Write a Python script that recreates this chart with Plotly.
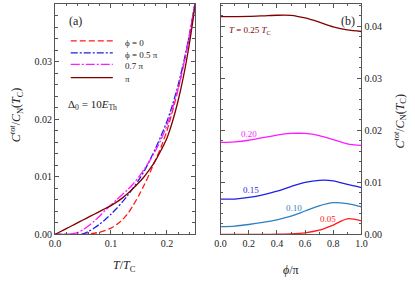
import plotly.graph_objects as go

# ---------------- data: panel (a) ----------------
T_a = [0.00, 0.01, 0.02, 0.03, 0.04, 0.05, 0.06, 0.07, 0.08, 0.09, 0.10, 0.11, 0.12, 0.13,
       0.14, 0.15, 0.16, 0.17, 0.18, 0.19, 0.20, 0.21, 0.22, 0.23, 0.24, 0.25, 0.26]
c_phi0 = [0.0, 0.0, 0.0, 0.0, 0.0, 0.0, 0.0001, 0.0002, 0.0004, 0.0007, 0.0011, 0.0017, 0.0025, 0.0036,
          0.0051, 0.0068, 0.0087, 0.0108, 0.0130, 0.0153, 0.0180, 0.0214, 0.0252, 0.0295, 0.0344, 0.0400, 0.0462]
c_phi05 = [0.0, 0.0, 0.0, 0.0, 0.0, 0.0001, 0.0005, 0.0011, 0.0018, 0.0026, 0.0035, 0.0045, 0.0056, 0.0068,
           0.0081, 0.0095, 0.0111, 0.0130, 0.0150, 0.0172, 0.0196, 0.0225, 0.0259, 0.0299, 0.0345, 0.0400, 0.0462]
c_phi07 = [0.0, 0.0, 0.0, 0.0001, 0.0003, 0.0008, 0.0015, 0.0023, 0.0032, 0.0042, 0.0051, 0.0060, 0.0069, 0.0078,
           0.0088, 0.0100, 0.0114, 0.0129, 0.0146, 0.0166, 0.0189, 0.0218, 0.0253, 0.0295, 0.0344, 0.0400, 0.0462]
c_phipi = [0.0, 0.0005, 0.0010, 0.0015, 0.0020, 0.0025, 0.0030, 0.0035, 0.0040, 0.0045, 0.0050, 0.0056, 0.0063, 0.0071,
           0.0080, 0.0090, 0.0101, 0.0114, 0.0129, 0.0147, 0.0167, 0.0196, 0.0232, 0.0276, 0.0330, 0.0395, 0.0470]
legend_names = ["ϕ = 0", "ϕ = 0.5 π", "0.7 π", "π"]

# ---------------- data: panel (b) ----------------
phi_b = [0.0, 0.1, 0.2, 0.3, 0.4, 0.5, 0.6, 0.7, 0.8, 0.9, 1.0]
c_T025 = [0.04185, 0.04187, 0.0419, 0.0420, 0.04212, 0.0421, 0.0416, 0.0408, 0.0399, 0.0393, 0.0390]
c_T020 = [0.0177, 0.0178, 0.0181, 0.0186, 0.0191, 0.0194, 0.0194, 0.0190, 0.0182, 0.0174, 0.0171]
c_T015 = [0.0068, 0.0068, 0.0071, 0.0076, 0.0083, 0.0092, 0.0100, 0.0104, 0.0103, 0.0096, 0.0090]
c_T010 = [0.0015, 0.0016, 0.0019, 0.0023, 0.0028, 0.0035, 0.0045, 0.0055, 0.0061, 0.0059, 0.0053]
c_T005 = [0.0, 0.0, 0.0, 0.0, 0.00005, 0.0001, 0.0003, 0.0008, 0.0018, 0.0030, 0.0026]
T_labels = ["<i>T</i> = 0.25 <i>T</i><sub>C</sub>", "0.20", "0.15", "0.10", "0.05"]

RED = "#ff1a1a"
BLUE = "#1f1fe6"
MAG = "#ff1aff"
DRED = "#800000"
SBLUE = "#2f7fc1"
AX = "#555555"
FONT = "Liberation Serif"

fig = go.Figure()

styles_a = [
    (c_phi0, RED, "6px,3px"),
    (c_phi05, BLUE, "7px,2px,2px,2px"),
    (c_phi07, MAG, "9px,2px,2px,2px"),
    (c_phipi, DRED, "solid"),
]
for ys, col, dash in styles_a:
    fig.add_trace(go.Scatter(x=T_a, y=ys, mode="lines", xaxis="x", yaxis="y",
                             line=dict(color=col, width=1.3, dash=dash, shape="spline", smoothing=0.8),
                             showlegend=False, hoverinfo="skip"))

styles_b = [
    (c_T025, DRED),
    (c_T020, MAG),
    (c_T015, BLUE),
    (c_T010, SBLUE),
    (c_T005, RED),
]
for ys, col in styles_b:
    fig.add_trace(go.Scatter(x=phi_b, y=ys, mode="lines", xaxis="x2", yaxis="y2",
                             line=dict(color=col, width=1.3, shape="spline", smoothing=0.8),
                             showlegend=False, hoverinfo="skip"))

common = dict(showline=True, linecolor=AX, linewidth=1, mirror="allticks", ticks="inside",
              ticklen=4, tickcolor=AX, showgrid=False, zeroline=False,
              tickfont=dict(family=FONT, size=10, color="#222"))
minor = dict(ticks="inside", ticklen=2.5, tickcolor=AX, showgrid=False)

ydom = [1 - 239.5 / 282, 1 - 4 / 282]
fig.update_layout(
    width=415, height=282, margin=dict(l=0, r=0, t=0, b=0),
    paper_bgcolor="white", plot_bgcolor="white",
    xaxis=dict(domain=[50.5 / 415, 194.5 / 415], range=[0, 0.25], dtick=0.1, tick0=0,
               tickformat=".1f", minor=dict(dtick=0.02, **minor), anchor="y", **common),
    yaxis=dict(domain=ydom, range=[0, 0.04001], dtick=0.01, tick0=0, tickformat=".2f",
               minor=dict(dtick=0.002, **minor), anchor="x", **common),
    xaxis2=dict(domain=[221 / 415, 366 / 415], range=[0, 1], dtick=0.2, tick0=0,
                tickformat=".1f", minor=dict(dtick=0.1, **minor), anchor="y2", **common),
    yaxis2=dict(domain=ydom, range=[0, 0.0443], dtick=0.01, tick0=0, tickformat=".2f",
                side="right", minor=dict(dtick=0.002, **minor), anchor="x2", **common),
)

ann = []
tf = dict(family=FONT, color="#222")
cc = dict(xanchor="center", yanchor="middle", showarrow=False)
ann.append(dict(text="<i>T</i>/<i>T</i><sub>C</sub>", x=122.5 / 415, y=1 - 272 / 282, xref="paper", yref="paper",
                font=dict(size=12, **tf), **cc))
ann.append(dict(text="<i>ϕ</i>/π", x=293.5 / 415, y=1 - 276 / 282, xref="paper", yref="paper",
                font=dict(size=12, **tf), **cc))
ytitle = "<i>C</i><sup><i>tot</i></sup>/<i>C</i><sub>N</sub>(<i>T</i><sub>C</sub>)"
ann.append(dict(text=ytitle, x=11 / 415, y=1 - 117 / 282, xref="paper", yref="paper", textangle=-90,
                font=dict(size=12, **tf), **cc))
ann.append(dict(text=ytitle, x=406 / 415, y=1 - 124 / 282, xref="paper", yref="paper", textangle=-90,
                font=dict(size=12, **tf), **cc))
ann.append(dict(text="(a)", x=0.0365, y=0.0371, xref="x", yref="y", font=dict(size=12, **tf), **cc))
ann.append(dict(text="Δ<sub>0</sub> = 10<i>E</i><sub>Th</sub>", x=0.0668, y=0.0225, xref="x", yref="y",
                font=dict(size=11, **tf), **cc))
leg_y = [0.0336, 0.0315, 0.0295, 0.0272]
shapes = []
for (ys, col, dash), name, ly in zip(styles_a, legend_names, leg_y):
    shapes.append(dict(type="line", xref="x", yref="y", x0=0.0281, x1=0.1033, y0=ly, y1=ly,
                       line=dict(color=col, width=1.3, dash=dash)))
    ann.append(dict(text=name, x=0.1207, y=ly - 0.0003, xref="x", yref="y", xanchor="left", yanchor="middle",
                    showarrow=False, font=dict(size=9, **tf)))
ann.append(dict(text="(b)", x=0.903, y=0.0410, xref="x2", yref="y2", font=dict(size=12, **tf), **cc))
lab_pos = [(0.207, 0.0391), (0.20, 0.01934), (0.214, 0.0085), (0.524, 0.00504), (0.766, 0.00292)]
for (ys, col), txt, (lx, ly) in zip(styles_b, T_labels, lab_pos):
    ann.append(dict(text=txt, x=lx, y=ly, xref="x2", yref="y2",
                    font=dict(family=FONT, size=9, color=col), **cc))

fig.update_layout(annotations=ann, shapes=shapes)
fig.write_html("out.html", config={"displayModeBar": False},
               post_script="document.body.style.margin='0';document.body.style.overflow='hidden';")
